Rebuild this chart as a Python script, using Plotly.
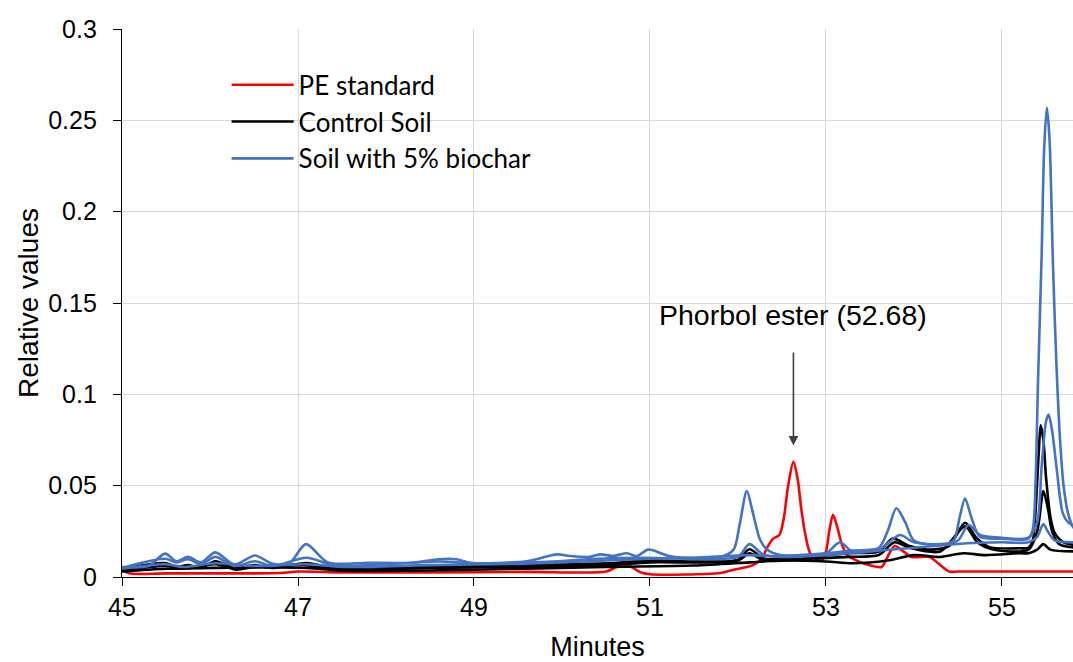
import plotly.graph_objects as go

# ---------------- data ----------------
red_t = [45.0, 45.08, 45.5, 46.8, 47.0, 47.5, 48.5, 49.6, 50.5, 50.62, 50.74, 50.9, 51.0, 51.8,
         51.95, 52.1, 52.17, 52.27, 52.33, 52.4, 52.47, 52.52, 52.57, 52.63, 52.68, 52.72, 52.77,
         52.82, 52.88, 52.95, 53.0, 53.04, 53.08, 53.13, 53.18, 53.24, 53.35, 53.5, 53.63, 53.7,
         53.78, 53.88, 53.97, 54.18, 54.27, 54.4, 54.5, 55.85]
red_v = [0.004, 0.002, 0.002, 0.0022, 0.003, 0.0025, 0.0025, 0.0028, 0.003, 0.0055, 0.0065, 0.0025,
         0.0015, 0.0022, 0.004, 0.0055, 0.0065, 0.010, 0.016, 0.021, 0.023, 0.032, 0.050, 0.063,
         0.053, 0.037, 0.022, 0.013, 0.010, 0.009, 0.014, 0.026, 0.034, 0.027, 0.018, 0.012, 0.009,
         0.0064, 0.0055, 0.011, 0.017, 0.014, 0.011, 0.011, 0.0077, 0.003, 0.003, 0.003]

blue_a_t = [45.0, 45.3, 45.49, 45.62, 45.75, 45.9, 46.06, 46.28, 46.51, 46.7, 46.9, 47.09, 47.34,
            47.8, 48.3, 48.6, 48.8, 48.95, 49.6, 49.94, 50.09, 50.32, 50.43, 50.58, 50.74, 50.85,
            50.98, 51.23, 51.8, 51.95, 52.02, 52.1, 52.17, 52.25, 52.33, 52.48, 53.0, 53.3, 53.6,
            53.7, 53.8, 53.9, 54.0, 54.3, 54.45, 54.52, 54.58, 54.65, 54.75, 55.0, 55.3, 55.35,
            55.38, 55.41, 55.45, 55.48, 55.51, 55.54, 55.58, 55.62, 55.66, 55.7, 55.75, 55.8, 55.85]
blue_a_v = [0.0055, 0.006, 0.0128, 0.0086, 0.011, 0.008, 0.0135, 0.0068, 0.0118, 0.0074, 0.0074,
            0.018, 0.0079, 0.0078, 0.0078, 0.0097, 0.0097, 0.0078, 0.0086, 0.0124, 0.0115, 0.011,
            0.0124, 0.0115, 0.013, 0.0114, 0.015, 0.0114, 0.011, 0.015, 0.029, 0.047, 0.035, 0.0205,
            0.015, 0.012, 0.013, 0.0145, 0.016, 0.025, 0.0376, 0.030, 0.020, 0.0175, 0.020, 0.033,
            0.043, 0.033, 0.022, 0.021, 0.021, 0.026, 0.050, 0.108, 0.175, 0.235, 0.257, 0.240,
            0.170, 0.115, 0.075, 0.050, 0.035, 0.028, 0.025]

blue_b_t = [45.0, 45.49, 45.62, 45.75, 45.9, 46.06, 46.28, 46.51, 46.7, 47.1, 47.4, 48.0, 48.6,
            49.0, 49.9, 50.4, 50.9, 51.5, 52.0, 52.13, 52.3, 52.8, 53.0, 53.16, 53.3, 53.6, 53.84,
            54.0, 54.3, 54.5, 54.62, 54.75, 55.0, 55.3, 55.4, 55.45, 55.5, 55.53, 55.57, 55.62,
            55.69, 55.75, 55.85]
blue_b_v = [0.005, 0.010, 0.008, 0.0097, 0.007, 0.011, 0.006, 0.0086, 0.006, 0.0105, 0.0065, 0.007,
            0.0085, 0.0075, 0.0085, 0.010, 0.0105, 0.010, 0.011, 0.018, 0.012, 0.012, 0.013, 0.019,
            0.014, 0.015, 0.023, 0.019, 0.018, 0.020, 0.0285, 0.023, 0.0215, 0.0215, 0.030, 0.060,
            0.085, 0.089, 0.080, 0.060, 0.035, 0.030, 0.027]

blue_c_t = [45.0, 45.49, 45.7, 46.06, 46.5, 47.1, 47.5, 48.5, 49.5, 50.5, 51.0, 51.5, 52.13, 52.5,
            53.0, 53.5, 54.0, 54.6, 55.0, 55.3, 55.4, 55.47, 55.52, 55.6, 55.85]
blue_c_v = [0.0045, 0.007, 0.0055, 0.0075, 0.006, 0.007, 0.0055, 0.0065, 0.0072, 0.009, 0.010,
            0.0105, 0.012, 0.011, 0.012, 0.014, 0.016, 0.0185, 0.019, 0.019, 0.022, 0.029, 0.025,
            0.020, 0.019]

black_a_t = [45.0, 45.49, 45.62, 45.75, 45.9, 46.06, 46.3, 46.5, 46.7, 47.1, 47.4, 48.0, 48.8, 49.5,
             50.5, 51.0, 51.5, 52.0, 52.13, 52.3, 52.8, 53.27, 53.6, 53.76, 53.95, 54.2, 54.4,
             54.58, 54.7, 54.85, 55.2, 55.3, 55.35, 55.38, 55.42, 55.44, 55.47, 55.5, 55.55, 55.6,
             55.7, 55.85]
black_a_v = [0.0045, 0.0076, 0.0055, 0.0065, 0.005, 0.0086, 0.0048, 0.0065, 0.005, 0.0076, 0.005,
             0.0055, 0.006, 0.0065, 0.0075, 0.009, 0.0085, 0.0095, 0.0152, 0.010, 0.011, 0.013,
             0.014, 0.021, 0.017, 0.015, 0.017, 0.0297, 0.022, 0.0165, 0.0157, 0.016, 0.020, 0.035,
             0.070, 0.083, 0.075, 0.055, 0.033, 0.024, 0.019, 0.0175]

black_b_t = [45.0, 45.49, 45.7, 46.06, 46.3, 46.5, 47.1, 47.4, 48.5, 49.5, 50.5, 51.0, 52.0, 52.13,
             52.3, 52.8, 53.27, 53.6, 53.78, 53.95, 54.3, 54.58, 54.72, 54.9, 55.3, 55.4, 55.47,
             55.52, 55.57, 55.65, 55.85]
black_b_v = [0.0035, 0.006, 0.0045, 0.007, 0.004, 0.0055, 0.0065, 0.004, 0.005, 0.0055, 0.0065,
             0.008, 0.009, 0.013, 0.009, 0.010, 0.011, 0.012, 0.019, 0.016, 0.014, 0.0277, 0.019,
             0.015, 0.015, 0.025, 0.047, 0.038, 0.025, 0.018, 0.016]

black_c_t = [45.0, 45.5, 46.06, 47.1, 47.5, 49.0, 50.5, 51.5, 52.13, 52.5, 53.0, 53.3, 53.7, 54.0,
             54.3, 54.56, 54.8, 55.2, 55.3, 55.4, 55.47, 55.55, 55.85]
black_c_v = [0.003, 0.0045, 0.005, 0.005, 0.0035, 0.004, 0.0055, 0.0063, 0.008, 0.009, 0.0085,
             0.0075, 0.009, 0.012, 0.011, 0.013, 0.012, 0.013, 0.013, 0.015, 0.018, 0.015, 0.014]

x_ticks = [45, 47, 49, 51, 53, 55]
y_ticks = [0, 0.05, 0.1, 0.15, 0.2, 0.25, 0.3]
y_tick_text = ["0", "0.05", "0.1", "0.15", "0.2", "0.25", "0.3"]

RED = "#ff0000"
BLACK = "#000000"
BLUE = "#4472c4"

series = [
    ("PE standard", red_t, red_v, RED, True),
    ("Control Soil", black_c_t, black_c_v, BLACK, False),
    ("Control Soil", black_b_t, black_b_v, BLACK, False),
    ("Control Soil", black_a_t, black_a_v, BLACK, True),
    ("Soil with 5% biochar", blue_c_t, blue_c_v, BLUE, False),
    ("Soil with 5% biochar", blue_b_t, blue_b_v, BLUE, False),
    ("Soil with 5% biochar", blue_a_t, blue_a_v, BLUE, True),
]

fig = go.Figure()
legend_order = {"PE standard": 1, "Control Soil": 2, "Soil with 5% biochar": 3}
for name, t, v, col, show in series:
    fig.add_trace(go.Scatter(
        x=t, y=v, mode="lines", name=name, legendgroup=name, showlegend=show,
        legendrank=legend_order[name],
        line=dict(color=col, width=2.6, shape="spline", smoothing=0.8),
    ))

AX_FONT = "Arial"

fig.update_layout(
    width=1073, height=662,
    margin=dict(l=122, r=0, t=29, b=85),
    paper_bgcolor="white", plot_bgcolor="white",
    font=dict(family=AX_FONT, color="#000000"),
    showlegend=True,
    legend=dict(
        x=0.110, y=0.941, xanchor="left", yanchor="top",
        bgcolor="rgba(0,0,0,0)",
        font=dict(family="Lato", size=26, color="#000000"),
        itemwidth=62, tracegroupgap=0, traceorder="normal",
    ),
    xaxis=dict(
        range=[45, 55.807], tickmode="array", tickvals=x_ticks,
        ticks="outside", ticklen=8, tickwidth=1.3, tickcolor="#000000",
        showline=True, linecolor="#000000", linewidth=1.3,
        showgrid=True, gridcolor="#d9d9d9", gridwidth=1, zeroline=False,
        tickfont=dict(family=AX_FONT, size=25),
        title=dict(text="Minutes", font=dict(family=AX_FONT, size=27), standoff=18),
    ),
    yaxis=dict(
        range=[0, 0.3], tickmode="array", tickvals=y_ticks, ticktext=y_tick_text,
        ticks="outside", ticklen=8, tickwidth=1.3, tickcolor="#000000",
        showline=True, linecolor="#000000", linewidth=1.3,
        showgrid=True, gridcolor="#d9d9d9", gridwidth=1, zeroline=False,
        tickfont=dict(family=AX_FONT, size=25), ticklabelstandoff=11,
        title=dict(text="Relative values", font=dict(family=AX_FONT, size=28), standoff=1),
    ),
)

# annotation: label and arrow for the phorbol ester peak
fig.add_annotation(x=52.63, y=0.1434, xref="x", yref="y", text="Phorbol ester (52.68)",
                   showarrow=False, font=dict(size=28.5, family=AX_FONT))
fig.add_annotation(x=52.63, y=0.072, xref="x", yref="y", ax=52.63, ay=0.1237,
                   axref="x", ayref="y", text="", showarrow=True, arrowhead=2,
                   arrowsize=1.2, arrowwidth=1.6, arrowcolor="#404040")

fig.write_html("out.html")
